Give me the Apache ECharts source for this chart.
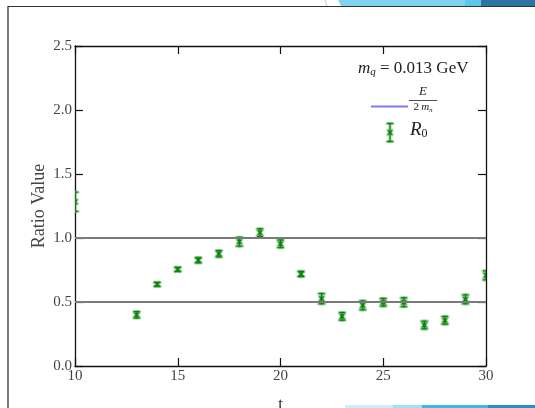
<!DOCTYPE html>
<html>
<head>
<meta charset="utf-8">
<script src="https://cdn.jsdelivr.net/npm/echarts@6/dist/echarts.min.js"></script>
<style>
  html, body { margin: 0; padding: 0; background: #fff; }
  #chart { width: 535px; height: 408px; }
</style>
</head>
<body>
<div id="chart"></div>
<script>
// Time slices and the R0 ratio with its statistical errors
const tValues = [10, 13, 14, 15, 16, 17, 18, 19, 20, 21, 22, 23, 24, 25, 26, 27, 28, 29, 30];
const r0Values = [1.283, 0.40, 0.638, 0.755, 0.826, 0.877, 0.971, 1.042, 0.955, 0.719, 0.526, 0.388, 0.474, 0.498, 0.498, 0.32, 0.357, 0.521, 0.708];
const r0Errors = [0.075, 0.025, 0.015, 0.015, 0.02, 0.025, 0.035, 0.03, 0.03, 0.02, 0.04, 0.03, 0.035, 0.03, 0.035, 0.03, 0.03, 0.035, 0.035];

// Reference levels drawn across the plot
const refLevels = [0.5, 1.0];

const serif = '"Liberation Serif", "DejaVu Serif", serif';
const green = '#0c7f0c';
const greenHalo = 'rgba(80,175,80,0.5)';

const errData = tValues.map((t, i) => [t, r0Values[i], r0Errors[i]]);

function errorBarShapes(cx, cy, yTop, yBot, cap, mk, lw) {
  const segs = [
    [cx, yTop, cx, yBot],
    [cx - cap, yTop, cx + cap, yTop],
    [cx - cap, yBot, cx + cap, yBot],
    [cx - mk, cy - mk, cx + mk, cy + mk],
    [cx - mk, cy + mk, cx + mk, cy - mk]
  ];
  const out = [];
  segs.forEach(s => out.push({
    type: 'line', shape: { x1: s[0], y1: s[1], x2: s[2], y2: s[3] },
    style: { stroke: greenHalo, lineWidth: lw + 2, lineCap: 'round' }
  }));
  segs.forEach(s => out.push({
    type: 'line', shape: { x1: s[0], y1: s[1], x2: s[2], y2: s[3] },
    style: { stroke: green, lineWidth: lw }
  }));
  return out;
}

const chart = echarts.init(document.getElementById('chart'), null, { renderer: 'canvas' });

const axisLabelStyle = { color: '#444', fontFamily: serif, fontSize: 15 };
const spine = { show: true, onZero: false, lineStyle: { color: '#111', width: 1.3 } };
const ticks = { show: true, inside: true, length: 8, lineStyle: { color: '#111', width: 1.2 } };

chart.setOption({
  animation: false,
  backgroundColor: '#fff',
  grid: { left: 75, top: 46, right: 49, bottom: 42, containLabel: false, outerBoundsMode: 'none' },
  xAxis: [
    {
      type: 'value', min: 10, max: 30, interval: 5, position: 'bottom',
      name: 't', nameLocation: 'middle', nameGap: 30, nameMoveOverlap: false,
      nameTextStyle: { color: '#333', fontFamily: serif, fontSize: 17 },
      axisLine: spine, axisTick: ticks,
      axisLabel: Object.assign({ margin: 3 }, axisLabelStyle),
      splitLine: { show: false }
    },
    {
      type: 'value', min: 10, max: 30, interval: 5, position: 'top',
      axisLine: spine, axisTick: ticks,
      axisLabel: { show: false },
      splitLine: { show: false }
    }
  ],
  yAxis: [
    {
      type: 'value', min: 0, max: 2.5, interval: 0.5, position: 'left',
      name: 'Ratio Value', nameLocation: 'middle', nameGap: 27, nameRotate: 90, nameMoveOverlap: false,
      nameTextStyle: { color: '#444', fontFamily: serif, fontSize: 18, verticalAlign: 'bottom' },
      axisLine: spine, axisTick: ticks,
      axisLabel: Object.assign({ margin: 3, formatter: v => v.toFixed(1) }, axisLabelStyle),
      splitLine: { show: false }
    },
    {
      type: 'value', min: 0, max: 2.5, interval: 0.5, position: 'right',
      axisLine: spine, axisTick: ticks,
      axisLabel: { show: false },
      splitLine: { show: false }
    }
  ],
  series: [
    {
      name: 'levels', type: 'line', xAxisIndex: 0, yAxisIndex: 0, data: [], silent: true,
      markLine: {
        symbol: 'none', silent: true, animation: false,
        label: { show: false },
        lineStyle: { color: '#7a7a7a', width: 2, type: 'solid' },
        data: refLevels.map(v => ({ yAxis: v }))
      }
    },
    {
      name: 'R0', type: 'custom', xAxisIndex: 0, yAxisIndex: 0, clip: true,
      data: errData,
      encode: { x: 0, y: 1 },
      renderItem: function (params, api) {
        const t = api.value(0), v = api.value(1), e = api.value(2);
        const c = api.coord([t, v]);
        const top = api.coord([t, v + e]);
        const bot = api.coord([t, v - e]);
        return { type: 'group', children: errorBarShapes(c[0], c[1], top[1], bot[1], 3, 2.2, 1.2) };
      }
    }
  ],
  graphic: [
    // page frame
    { type: 'line', shape: { x1: 8, y1: 6.5, x2: 535, y2: 6.5 }, style: { stroke: '#333', lineWidth: 1.2 } },
    { type: 'line', shape: { x1: 8, y1: 6, x2: 8, y2: 408 }, style: { stroke: '#222', lineWidth: 1.2 } },
    // top banner shapes
    { type: 'line', shape: { x1: 325, y1: 0, x2: 327, y2: 6 }, style: { stroke: '#9fdcf2', lineWidth: 1 } },
    { type: 'polygon', shape: { points: [[338, 0], [465, 0], [465, 6], [341, 6]] }, style: { fill: '#80d3ef' } },
    { type: 'polygon', shape: { points: [[465, 0], [481, 0], [481, 6], [465, 6]] }, style: { fill: '#5ec8ec' } },
    { type: 'rect', shape: { x: 481, y: 0, width: 54, height: 6 }, style: { fill: '#2d74a5' } },
    // bottom banner shapes
    { type: 'rect', shape: { x: 345, y: 405, width: 48, height: 3 }, style: { fill: '#cdeef9' } },
    { type: 'rect', shape: { x: 393, y: 405, width: 29, height: 3 }, style: { fill: '#a3e0f4' } },
    { type: 'rect', shape: { x: 422, y: 405, width: 66, height: 3 }, style: { fill: '#3db8e8' } },
    { type: 'rect', shape: { x: 488, y: 405, width: 47, height: 3 }, style: { fill: '#2a8ecb' } },
    // legend title
    {
      type: 'text', left: 358, top: 60,
      style: {
        text: '{i|m}{s|q}{r| = 0.013 GeV}',
        rich: {
          i: { fontFamily: serif, fontStyle: 'italic', fontSize: 17, fill: '#222' },
          s: { fontFamily: serif, fontStyle: 'italic', fontSize: 11, fill: '#222', padding: [7, 0, 0, 0] },
          r: { fontFamily: serif, fontSize: 17, fill: '#222' }
        }
      }
    },
    // legend: E / 2 m_pi line entry
    { type: 'line', shape: { x1: 371, y1: 106.5, x2: 408, y2: 106.5 }, style: { stroke: '#7b7bf2', lineWidth: 2 } },
    {
      type: 'text', x: 423, y: 92,
      style: { text: 'E', fontFamily: serif, fontStyle: 'italic', fontSize: 13, fill: '#222', align: 'center', verticalAlign: 'middle' }
    },
    { type: 'line', shape: { x1: 409, y1: 100.5, x2: 437, y2: 100.5 }, style: { stroke: '#222', lineWidth: 0.8 } },
    {
      type: 'text', x: 423, y: 107.5,
      style: {
        text: '{r|2\u2009}{i|m}{s|π}',
        align: 'center', verticalAlign: 'middle',
        rich: {
          r: { fontFamily: serif, fontSize: 11, fill: '#222' },
          i: { fontFamily: serif, fontStyle: 'italic', fontSize: 11, fill: '#222' },
          s: { fontFamily: serif, fontStyle: 'italic', fontSize: 7, fill: '#222', padding: [5, 0, 0, 0] }
        }
      }
    },
    // legend: R0 entry
    { type: 'group', children: errorBarShapes(390, 132.5, 123.5, 141.5, 3, 2.2, 1.2) },
    {
      type: 'text', left: 410, top: 120,
      style: {
        text: '{i|R}{s|0}',
        rich: {
          i: { fontFamily: serif, fontStyle: 'italic', fontSize: 19, fill: '#222' },
          s: { fontFamily: serif, fontSize: 12, fill: '#222', padding: [8, 0, 0, 0] }
        }
      }
    }
  ]
});
</script>
</body>
</html>
